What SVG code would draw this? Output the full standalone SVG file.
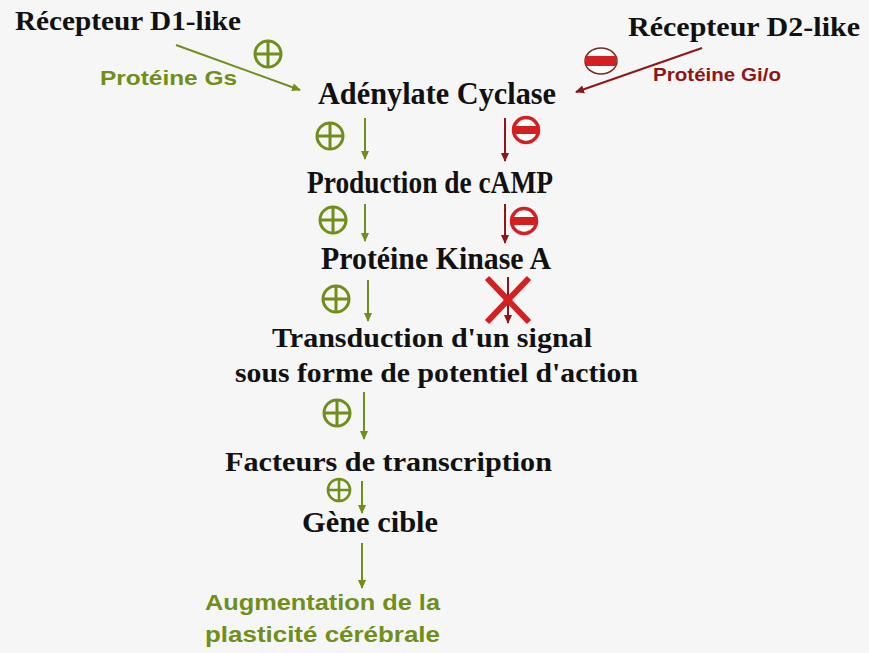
<svg xmlns="http://www.w3.org/2000/svg" width="869" height="653" viewBox="0 0 869 653">
<style>
.t{font-family:"Liberation Serif","Times New Roman",serif;font-weight:bold;fill:#111;}
.g{font-family:"Liberation Sans",Arial,sans-serif;font-weight:bold;fill:#6f8f1a;}
.r{font-family:"Liberation Sans",Arial,sans-serif;font-weight:bold;fill:#8e1616;}
.gl{stroke:#6f8f1a;stroke-width:2;fill:none;}
.rl{stroke:#8e1616;stroke-width:2;fill:none;}
</style>
<defs>
<marker id="ag" markerWidth="10" markerHeight="10" refX="8" refY="5" orient="auto" markerUnits="userSpaceOnUse"><path d="M0,1 L9,5 L0,9 Z" fill="#6f8f1a"/></marker>
<marker id="ar" markerWidth="10" markerHeight="10" refX="8" refY="5" orient="auto" markerUnits="userSpaceOnUse"><path d="M0,1 L9,5 L0,9 Z" fill="#8e1616"/></marker>
<g id="p" fill="none" stroke="#6f8f1a" stroke-width="3"><circle cx="0" cy="0" r="13"/><path d="M-13,0 H13 M0,-13 V13"/></g>
<g id="m"><circle cx="0" cy="0" r="12.5" fill="#fff" stroke="#d42020" stroke-width="3.5"/><rect x="-11" y="-4" width="22" height="8" fill="#d42020"/></g>
</defs>
<rect width="869" height="653" fill="#f6f6f6"/>

<g id="connectors">
<line class="gl" x1="176" y1="45" x2="300" y2="90" marker-end="url(#ag)"/>
<line class="rl" x1="702" y1="48" x2="576" y2="92" marker-end="url(#ar)"/>
<line class="gl" x1="365" y1="118" x2="365" y2="159" marker-end="url(#ag)"/>
<line class="rl" x1="505" y1="118" x2="505" y2="161" marker-end="url(#ar)"/>
<line class="gl" x1="365" y1="204" x2="365" y2="241" marker-end="url(#ag)"/>
<line class="rl" x1="505" y1="204" x2="505" y2="243" marker-end="url(#ar)"/>
<line class="gl" x1="368" y1="280" x2="368" y2="321" marker-end="url(#ag)"/>
<line class="rl" x1="508" y1="277" x2="508" y2="323" marker-end="url(#ar)"/>
<line class="gl" x1="364" y1="392" x2="364" y2="439" marker-end="url(#ag)"/>
<line class="gl" x1="362" y1="481" x2="362" y2="513" marker-end="url(#ag)"/>
<line class="gl" x1="362" y1="543" x2="362" y2="588" marker-end="url(#ag)"/>
</g>

<g id="signs">
<use href="#p" x="268" y="54"/>
<g><ellipse cx="601" cy="61" rx="16" ry="13" fill="#fff" stroke="#7a2a1a" stroke-width="1.5"/><rect x="586" y="56" width="30" height="10" fill="#d42020"/></g>
<use href="#p" x="330" y="136"/>
<use href="#m" x="526" y="130"/>
<use href="#p" x="333" y="220"/>
<use href="#m" x="524" y="221"/>
<use href="#p" x="336" y="299"/>
<use href="#p" x="337" y="413"/>
<use href="#p" x="339" y="490" transform="translate(339,490) scale(0.85) translate(-339,-490)"/>
<g id="cross" stroke="#d42020" stroke-width="6"><line x1="487" y1="278" x2="529" y2="322"/><line x1="529" y1="278" x2="487" y2="322"/></g>
</g>

<g id="d1"><text class="t" x="15" y="30" font-size="27" textLength="226" lengthAdjust="spacingAndGlyphs">Récepteur D1-like</text></g>
<g id="d2"><text class="t" x="628" y="36" font-size="27" textLength="232" lengthAdjust="spacingAndGlyphs">Récepteur D2-like</text></g>
<g id="gs"><text class="g" x="100" y="85" font-size="21" textLength="137" lengthAdjust="spacingAndGlyphs">Protéine Gs</text></g>
<g id="gio"><text class="r" x="653" y="81" font-size="19" textLength="128" lengthAdjust="spacingAndGlyphs">Protéine Gi/o</text></g>
<g id="ac"><text class="t" x="318" y="104" font-size="31" textLength="238" lengthAdjust="spacingAndGlyphs">Adénylate Cyclase</text></g>
<g id="camp"><text class="t" x="307" y="193" font-size="31" textLength="246" lengthAdjust="spacingAndGlyphs">Production de cAMP</text></g>
<g id="pka"><text class="t" x="321" y="269" font-size="31" textLength="230" lengthAdjust="spacingAndGlyphs">Protéine Kinase A</text></g>
<g id="trans">
<text class="t" x="272" y="347" font-size="27" textLength="320" lengthAdjust="spacingAndGlyphs">Transduction d'un signal</text>
<text class="t" x="235" y="382" font-size="27" textLength="403" lengthAdjust="spacingAndGlyphs">sous forme de potentiel d'action</text>
</g>
<g id="fact"><text class="t" x="225" y="471" font-size="27" textLength="327" lengthAdjust="spacingAndGlyphs">Facteurs de transcription</text></g>
<g id="gene"><text class="t" x="302" y="532" font-size="30" textLength="136" lengthAdjust="spacingAndGlyphs">Gène cible</text></g>
<g id="aug">
<text class="g" x="205" y="610" font-size="22" textLength="235" lengthAdjust="spacingAndGlyphs">Augmentation de la</text>
<text class="g" x="205" y="642" font-size="22" textLength="235" lengthAdjust="spacingAndGlyphs">plasticité cérébrale</text>
</g>
</svg>
